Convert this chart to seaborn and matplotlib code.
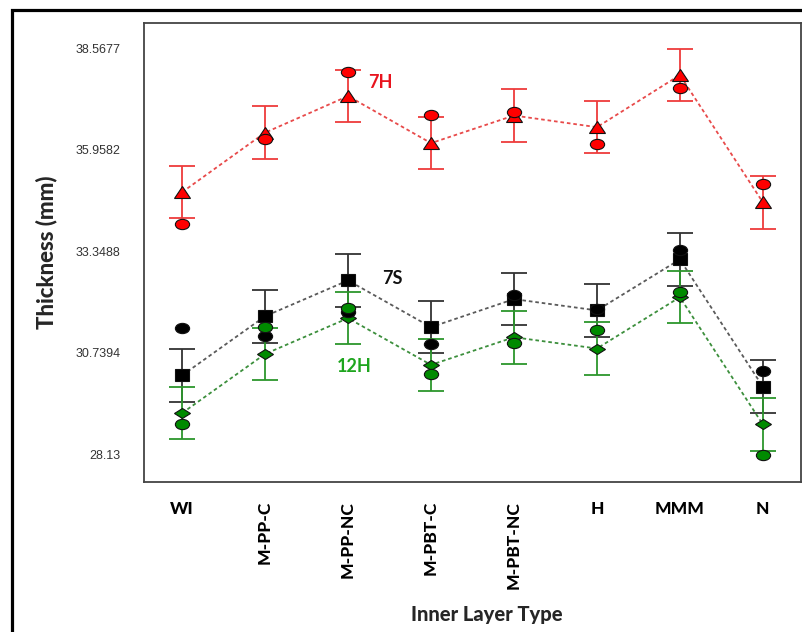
import numpy as np
import pandas as pd
import matplotlib
matplotlib.use("Agg")
import matplotlib.pyplot as plt
import seaborn as sns
from matplotlib.markers import MarkerStyle
from matplotlib.transforms import Affine2D
from matplotlib.patches import Rectangle

# ---- data ----
layers = ['WI', 'M-PP-C', 'M-PP-NC', 'M-PBT-C', 'M-PBT-NC', 'H', 'MMM', 'N']

# fitted means (with error bars) and observed points per group
mean_7h = [34.87, 36.40, 37.34, 36.13, 36.84, 36.54, 37.88, 34.61]
obs_7h = [34.05, 36.24, 37.97, 36.85, 36.92, 36.12, 37.55, 35.09]

mean_7s = [30.16, 31.68, 32.60, 31.40, 32.12, 31.83, 33.14, 29.87]
obs_7s = [31.38, 31.18, 31.78, 30.96, 32.23, 31.87, 33.38, 30.27]

mean_12h = [29.19, 30.71, 31.63, 30.43, 31.14, 30.85, 32.17, 28.90]
obs_12h = [28.90, 31.41, 31.88, 30.19, 30.98, 31.33, 32.31, 28.11]

half_ci = 0.676  # same interval half-width for every mean

yticks = [28.13, 30.7394, 33.3488, 35.9582, 38.5677]
ytick_labels = ['28.13', '30.7394', '33.3488', '35.9582', '38.5677']

sns.set_style("white")
plt.rcParams['font.family'] = ['Lato', 'DejaVu Sans']


def squash(m, sy):
    return MarkerStyle(m, transform=Affine2D().scale(1.0, sy))


groups = [
    # name, means, observed, mean marker, size, fill, bar colour, line colour
    ('7H', mean_7h, obs_7h, squash('^', 0.8), 11, '#ff0000', '#ee3b3b', '#e84a4a'),
    ('7S', mean_7s, obs_7s, squash('s', 0.8), 10.5, '#000000', '#333333', '#5a5a5a'),
    ('12H', mean_12h, obs_12h, squash('D', 0.68), 7.8, '#008a00', '#2c962c', '#3c8f3c'),
]

fig = plt.figure(figsize=(8.03, 6.32), dpi=100)
ax = fig.add_axes([0.1793, 0.2378, 0.8182, 0.7253])

circle = squash('o', 0.72)

for name, means, obs, mk, ms, fill, barc, linec in groups:
    df = pd.DataFrame({'layer': layers, 'mean': means, 'obs': obs})
    ax.errorbar(df['layer'], df['mean'], yerr=half_ci, fmt='none',
                ecolor=barc, elinewidth=1.3, capsize=9.5, capthick=1.3, zorder=2)
    sns.lineplot(data=df, x='layer', y='mean', sort=False, ax=ax,
                 color=linec, linewidth=1.3, dashes=(2, 1.6),
                 marker=mk, markersize=ms, markerfacecolor=fill,
                 mec='#111111', mew=0.8, zorder=3)
    sns.scatterplot(data=df, x='layer', y='obs', ax=ax, marker=circle,
                    s=105, color=fill, edgecolor='#111111', linewidth=0.8,
                    zorder=4)

# group labels
ax.text(2.39, 37.70, '7H', color='#e8141e', fontsize=13, fontweight='bold',
        ha='center', va='center')
ax.text(2.53, 32.66, '7S', color='#111111', fontsize=13, fontweight='bold',
        ha='center', va='center')
ax.text(2.07, 30.40, '12H', color='#1ea51e', fontsize=13, fontweight='bold',
        ha='center', va='center')

ax.set_xlim(-0.46, len(layers) - 1 + 0.46)
ax.set_ylim(27.426, 39.21)
ax.set_yticks(yticks)
ax.set_yticklabels(ytick_labels, fontsize=9, color='#333333',
                   family=['Liberation Sans', 'DejaVu Sans'])

ax.tick_params(axis='both', direction='out', color='#444444', width=1.2)
ax.tick_params(axis='y', length=11, pad=6)
ax.tick_params(axis='x', length=8, pad=6)
for lbl in ax.get_xticklabels():
    lbl.set_fontweight('black')
    lbl.set_fontsize(12.5)
    lbl.set_color('black')
    if lbl.get_text().startswith('M-'):
        lbl.set_rotation(90)
        lbl.set_va('top')

for sp in ax.spines.values():
    sp.set_color('#444444')
    sp.set_linewidth(1.3)

ax.set_xlabel('Inner Layer Type', fontsize=14.5, fontweight='black')
ax.set_ylabel('Thickness (mm)', fontsize=16, fontweight='black')
ax.xaxis.set_label_coords(0.5216, -0.27)
ax.yaxis.set_label_coords(-0.132, 0.5)

# thick outer frame, cut off by the right and bottom edges
fig.patches.append(Rectangle((12 / 803, -0.1), 1.2, 1.1 - 10 / 632,
                             transform=fig.transFigure, fill=False,
                             lw=2.3, ec='black'))

fig.savefig('out.png', dpi=100)
